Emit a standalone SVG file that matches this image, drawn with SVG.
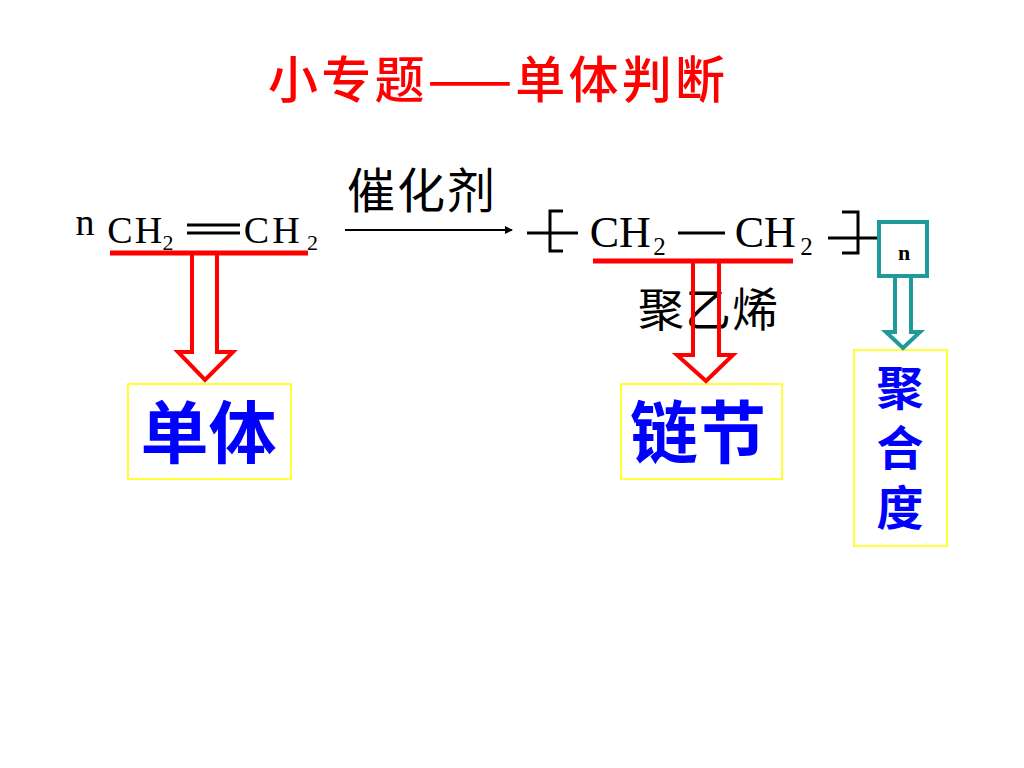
<svg xmlns="http://www.w3.org/2000/svg" width="1024" height="768" viewBox="0 0 1024 768">
<style>
.cjk{font-family:"Noto Sans CJK SC","Noto Sans",sans-serif}
.title{fill:#ff0000;font-size:50px;font-weight:500}
.lbl{fill:#000;font-size:48px}
.big{fill:#0000ff;font-size:68px;font-weight:bold}
.vert{fill:#0000ff;font-size:47px;font-weight:bold}
.chem{font-family:"Liberation Serif","Times New Roman",serif;fill:#000;text-anchor:middle}
.ybox{fill:none;stroke:#ffff33;stroke-width:2}
.redarrow{fill:none;stroke:#ff0000;stroke-width:4;stroke-linejoin:miter}
.redline{stroke:#ff0000;stroke-width:5}
.tealarrow{fill:none;stroke:#1f9a9a;stroke-width:4}
.blk{stroke:#000;stroke-width:3;fill:none}
</style>
<defs>
<marker id="ah" markerWidth="8" markerHeight="8" refX="7" refY="4" orient="auto" markerUnits="userSpaceOnUse" viewBox="0 0 8 8">
<path d="M0,0 L8,4 L0,8 Z" fill="#000"/>
</marker>
</defs>
<rect width="1024" height="768" fill="#fff"/>

<g id="title">
<text class="cjk title" x="268" y="98" textLength="457">小专题——单体判断</text>
</g>

<g id="monomer-formula">
<text class="chem" x="85" y="235" font-size="38">n</text>
<text class="chem" x="120" y="243" font-size="38">C</text>
<text class="chem" x="148.5" y="243" font-size="38">H</text>
<text class="chem" x="168" y="250" font-size="22">2</text>
<line class="blk" x1="187" y1="225" x2="240" y2="225"/>
<line class="blk" x1="187" y1="233" x2="240" y2="233"/>
<text class="chem" x="256.5" y="243" font-size="38">C</text>
<text class="chem" x="286" y="243" font-size="38">H</text>
<text class="chem" x="312.5" y="250" font-size="22">2</text>
</g>

<g id="catalyst">
<text class="cjk lbl" x="347" y="208" textLength="148">催化剂</text>
</g>

<g id="polymer-formula">
<line class="blk" x1="527" y1="233" x2="578" y2="233"/>
<polyline class="blk" points="563,211 550,211 550,251 563,251"/>
<text class="chem" x="604.5" y="247" font-size="44">C</text>
<text class="chem" x="635" y="247" font-size="44">H</text>
<text class="chem" x="659.5" y="255" font-size="25">2</text>
<line class="blk" x1="678" y1="233" x2="725" y2="233"/>
<text class="chem" x="749.5" y="247" font-size="44">C</text>
<text class="chem" x="780" y="247" font-size="44">H</text>
<text class="chem" x="806.5" y="255" font-size="25">2</text>
<polyline class="blk" points="842,212 858,212 858,253 842,253"/>
<line class="blk" x1="828" y1="238" x2="878" y2="238"/>
</g>

<g id="polyethylene">
<text class="cjk lbl" x="638" y="326" textLength="140" style="font-size:46px">聚乙烯</text>
</g>

<g id="n-box">
<rect x="879" y="222" width="48" height="54" fill="#fff" stroke="#1f9a9a" stroke-width="4"/>
<text x="904" y="260" font-family="Liberation Serif,serif" font-weight="bold" font-size="22" text-anchor="middle" fill="#000">n</text>
</g>

<g id="monomer">
<rect class="ybox" x="128" y="384" width="163" height="95"/>
<text class="cjk big" x="208.5" y="458" text-anchor="middle">单体</text>
</g>

<g id="repeat-unit">
<rect class="ybox" x="621" y="384" width="161" height="95"/>
<text class="cjk big" x="698" y="458" text-anchor="middle">链节</text>
</g>

<g id="degree">
<rect class="ybox" x="854" y="350" width="93" height="196"/>
<text class="cjk vert" x="900" y="364" writing-mode="tb" style="writing-mode:vertical-rl;letter-spacing:13px">聚合度</text>
</g>

<g id="connectors">
<line x1="345" y1="230" x2="512" y2="230" stroke="#000" stroke-width="2" marker-end="url(#ah)"/>
<line class="redline" x1="110" y1="253" x2="308" y2="253"/>
<path class="redarrow" d="M192,255 L192,352 L178,352 L205,380 L233,352 L217,352 L217,255"/>
<line class="redline" x1="593" y1="261" x2="793" y2="261"/>
<path class="redarrow" d="M693,263 L693,355 L677,355 L706,381 L733,355 L719,355 L719,263"/>
<path class="tealarrow" d="M895,278 L895,332 L886,332 L903,348 L920,332 L911,332 L911,278"/>
</g>
</svg>
